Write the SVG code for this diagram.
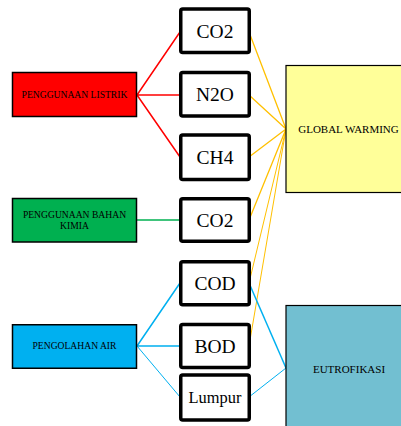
<svg xmlns="http://www.w3.org/2000/svg" width="401" height="426" viewBox="0 0 401 426" font-family="'Liberation Serif', 'Times New Roman', 'DejaVu Serif', serif">
<style>
text{font-family:'Liberation Serif','Times New Roman','DejaVu Serif',serif;fill:#000;text-anchor:middle}
.srcbox{stroke:#000;stroke-width:1.5}
.gasbox{fill:#fff;stroke:#000;stroke-width:3.5}
.bigbox{stroke:#000;stroke-width:1.2}
.ln-red{stroke:#FF0000;stroke-width:1.5;fill:none}
.ln-yel{stroke:#FFC000;stroke-width:1.3;fill:none}
.ln-blu{stroke:#00B0F0;stroke-width:1.5;fill:none}
.ln-grn{stroke:#00B050;stroke-width:1.3;fill:none}
</style>
<rect width="401" height="426" fill="#fff"/>
<g id="connectors">
<path class="ln-red" d="M137,95 L180,32 M137,95 L180,95 M137,95 L180,157"/>
<path class="ln-grn" d="M137,220 L180,220"/>
<path class="ln-blu" d="M137,346 L180,283 M137,346 L180,346"/>
<path class="ln-blu" style="stroke-width:1" d="M137,346 L180,397"/>
<path class="ln-yel" d="M249,32 L286,129 M249,95 L286,129 M249,157 L286,129 M249,220 L286,129"/>
<path class="ln-yel" style="stroke-width:1" d="M249,283 L286,129 M249,346 L286,129"/>
<path class="ln-blu" d="M249,283 L286,368"/>
<path class="ln-blu" style="stroke-width:1" d="M249,397 L286,368"/>
</g>
<g id="listrik">
<rect class="srcbox" x="12.5" y="72.5" width="124" height="44" fill="#FF0000"/>
<text font-size="9.6" x="74.5" y="98">PENGGUNAAN LISTRIK</text>
</g>
<g id="kimia">
<rect class="srcbox" x="12.5" y="198.5" width="124" height="43.5" fill="#00B050"/>
<text font-size="9.6" x="74.5" y="217.5">PENGGUNAAN BAHAN</text>
<text font-size="9.6" x="74.5" y="229">KIMIA</text>
</g>
<g id="air">
<rect class="srcbox" x="12.5" y="324.75" width="124" height="43.5" fill="#00B0F0"/>
<text font-size="9.6" x="74.5" y="349.3">PENGOLAHAN AIR</text>
</g>
<g id="co2a">
<rect class="gasbox" x="180.75" y="9" width="68.5" height="43.5" rx="2"/>
<text font-size="19.5" x="215" y="37.5">CO2</text>
</g>
<g id="n2o">
<rect class="gasbox" x="180.75" y="72.5" width="68.5" height="43.5" rx="2"/>
<text font-size="19.5" x="215" y="101">N2O</text>
</g>
<g id="ch4">
<rect class="gasbox" x="180.75" y="135" width="68.5" height="44.5" rx="2"/>
<text font-size="19.5" x="215" y="164">CH4</text>
</g>
<g id="co2b">
<rect class="gasbox" x="180.75" y="198.75" width="68.5" height="42.5" rx="2"/>
<text font-size="19.5" x="215" y="226.5">CO2</text>
</g>
<g id="cod">
<rect class="gasbox" x="180.75" y="261.75" width="68.5" height="43" rx="2"/>
<text font-size="19.5" x="215" y="290">COD</text>
</g>
<g id="bod">
<rect class="gasbox" x="180.75" y="324.5" width="68.5" height="43" rx="2"/>
<text font-size="19.5" x="215" y="352.5">BOD</text>
</g>
<g id="lumpur">
<rect class="gasbox" x="180.75" y="375" width="68.5" height="45" rx="2"/>
<text font-size="16.4" x="215" y="403.3">Lumpur</text>
</g>
<g id="global">
<rect class="bigbox" x="286" y="65.5" width="126" height="127" fill="#FFFF99"/>
<text font-size="11" x="348.5" y="133">GLOBAL WARMING</text>
</g>
<g id="eutrofikasi">
<rect class="bigbox" x="286" y="305.5" width="126" height="130" fill="#72BFD1"/>
<text font-size="11" x="349" y="372.5">EUTROFIKASI</text>
</g>
</svg>
